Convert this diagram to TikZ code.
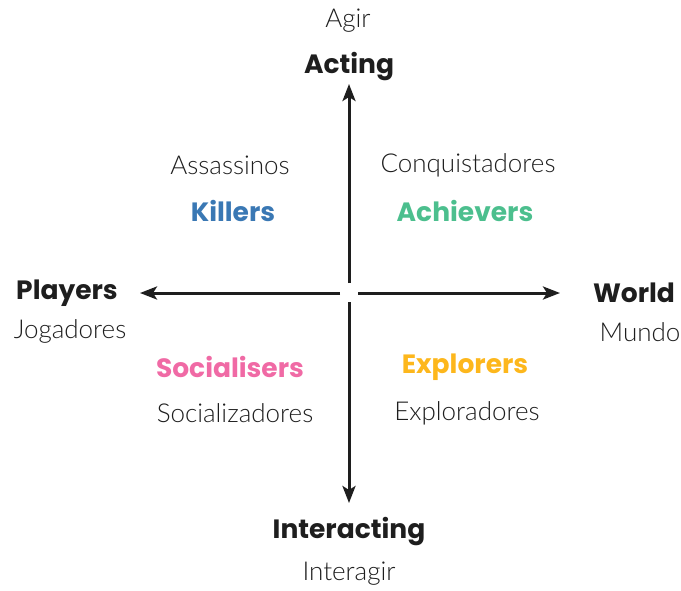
\documentclass[tikz,border=0pt]{standalone}
\usepackage{fontspec}
\setmainfont{Lato}
\newfontfamily\subfont{Lato}[UprightFont=* Light]
\newfontfamily\headfont{Poppins}
\usetikzlibrary{arrows.meta}
\definecolor{ink}{HTML}{1E1E1E}
\definecolor{killblue}{HTML}{3A78B4}
\definecolor{achgreen}{HTML}{4CBF8E}
\definecolor{socpink}{HTML}{F06AA5}
\definecolor{expyellow}{HTML}{FDB71C}
\tikzset{
  sub/.style={text=ink, font=\subfont\fontsize{26}{28}\selectfont, inner sep=0pt},
  head/.style={text=ink, font=\headfont\fontsize{26.5}{28}\selectfont\bfseries, inner sep=0pt},
  axis/.style={draw=ink, line width=3pt, -{Stealth[length=17pt, width=13pt, inset=4pt]}}
}
\begin{document}
\begin{tikzpicture}[x=1pt, y=-1pt]
\useasboundingbox (0,0) rectangle (681,590);
% axis ends
\coordinate (c-up) at (349,283);
\coordinate (c-down) at (349,302);
\coordinate (c-left) at (340,293);
\coordinate (c-right) at (358,293);
\coordinate (t-up) at (349,84);
\coordinate (t-down) at (349,503);
\coordinate (t-left) at (140,293);
\coordinate (t-right) at (560,293);
% axis labels
\node[sub]  (agir) at (348,21) {Agir};
\node[head] (acting) at (349,67) {Acting};
\node[head] (interacting) at (349,532) {Interacting};
\node[sub]  (interagir) at (349,574) {Interagir};
\node[head] (players) at (67,293) {Players};
\node[sub]  (jogadores) at (70,331) {Jogadores};
\node[head] (world) at (634,293) {World};
\node[sub]  (mundo) at (640,332) {Mundo};
% quadrant labels
\node[sub]  (assassinos) at (230,165) {Assassinos};
\node[head, text=killblue] (killers) at (233,211) {Killers};
\node[sub]  (conquistadores) at (468,165) {Conquistadores};
\node[head, text=achgreen] (achievers) at (465,211) {Achievers};
\node[head, text=socpink] (socialisers) at (230,367) {Socialisers};
\node[sub]  (socializadores) at (235,413) {Socializadores};
\node[head, text=expyellow] (explorers) at (465,367) {Explorers};
\node[sub]  (exploradores) at (467,413) {Exploradores};
% axes
\draw[axis] (c-up) -- (t-up);
\draw[axis] (c-down) -- (t-down);
\draw[axis] (c-left) -- (t-left);
\draw[axis] (c-right) -- (t-right);
\end{tikzpicture}
\end{document}
